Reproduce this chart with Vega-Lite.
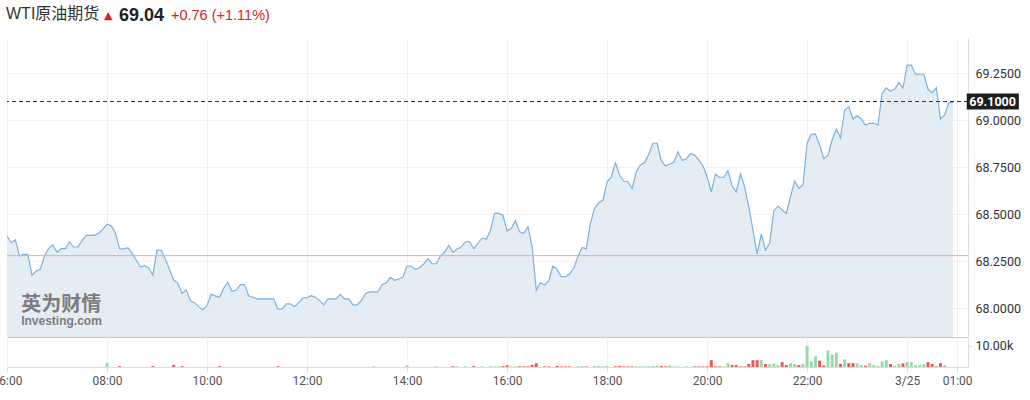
{
"$schema": "https://vega.github.io/schema/vega-lite/v6.json",
"background": "white",
"padding": {"left": -8, "top": 6, "right": 0, "bottom": 0},
"spacing": 0,
"config": {"view": {"stroke": null}, "axis": {"labelFont": "Roboto", "domainWidth": 1}},
"datasets": {
"price": [
{"t":"2025-03-24T06:00Z","p":68.386},{"t":"2025-03-24T06:05Z","p":68.349},{"t":"2025-03-24T06:10Z","p":68.365},{"t":"2025-03-24T06:15Z","p":68.278},{"t":"2025-03-24T06:20Z","p":68.287},{"t":"2025-03-24T06:25Z","p":68.287},{"t":"2025-03-24T06:30Z","p":68.176},{"t":"2025-03-24T06:35Z","p":68.198},{"t":"2025-03-24T06:40Z","p":68.209},{"t":"2025-03-24T06:45Z","p":68.278},{"t":"2025-03-24T06:50Z","p":68.319},{"t":"2025-03-24T06:55Z","p":68.337},
{"t":"2025-03-24T07:00Z","p":68.298},{"t":"2025-03-24T07:05Z","p":68.317},{"t":"2025-03-24T07:10Z","p":68.317},{"t":"2025-03-24T07:15Z","p":68.354},{"t":"2025-03-24T07:20Z","p":68.326},{"t":"2025-03-24T07:25Z","p":68.326},{"t":"2025-03-24T07:30Z","p":68.360},{"t":"2025-03-24T07:35Z","p":68.388},{"t":"2025-03-24T07:40Z","p":68.388},{"t":"2025-03-24T07:45Z","p":68.388},{"t":"2025-03-24T07:50Z","p":68.399},{"t":"2025-03-24T07:55Z","p":68.420},
{"t":"2025-03-24T08:00Z","p":68.447},{"t":"2025-03-24T08:05Z","p":68.439},{"t":"2025-03-24T08:10Z","p":68.402},{"t":"2025-03-24T08:15Z","p":68.317},{"t":"2025-03-24T08:20Z","p":68.315},{"t":"2025-03-24T08:25Z","p":68.322},{"t":"2025-03-24T08:30Z","p":68.293},{"t":"2025-03-24T08:35Z","p":68.257},{"t":"2025-03-24T08:40Z","p":68.220},{"t":"2025-03-24T08:45Z","p":68.225},{"t":"2025-03-24T08:50Z","p":68.216},{"t":"2025-03-24T08:55Z","p":68.176},
{"t":"2025-03-24T09:00Z","p":68.309},{"t":"2025-03-24T09:05Z","p":68.309},{"t":"2025-03-24T09:10Z","p":68.262},{"t":"2025-03-24T09:15Z","p":68.207},{"t":"2025-03-24T09:20Z","p":68.150},{"t":"2025-03-24T09:25Z","p":68.133},{"t":"2025-03-24T09:30Z","p":68.080},{"t":"2025-03-24T09:35Z","p":68.098},{"t":"2025-03-24T09:40Z","p":68.040},{"t":"2025-03-24T09:45Z","p":68.030},{"t":"2025-03-24T09:50Z","p":68.009},{"t":"2025-03-24T09:55Z","p":67.991},
{"t":"2025-03-24T10:00Z","p":68.016},{"t":"2025-03-24T10:05Z","p":68.074},{"t":"2025-03-24T10:10Z","p":68.066},{"t":"2025-03-24T10:15Z","p":68.059},{"t":"2025-03-24T10:20Z","p":68.108},{"t":"2025-03-24T10:25Z","p":68.138},{"t":"2025-03-24T10:30Z","p":68.090},{"t":"2025-03-24T10:35Z","p":68.097},{"t":"2025-03-24T10:40Z","p":68.126},{"t":"2025-03-24T10:45Z","p":68.126},{"t":"2025-03-24T10:50Z","p":68.067},{"t":"2025-03-24T10:55Z","p":68.059},
{"t":"2025-03-24T11:00Z","p":68.050},{"t":"2025-03-24T11:05Z","p":68.050},{"t":"2025-03-24T11:10Z","p":68.050},{"t":"2025-03-24T11:15Z","p":68.050},{"t":"2025-03-24T11:20Z","p":68.050},{"t":"2025-03-24T11:25Z","p":67.996},{"t":"2025-03-24T11:30Z","p":67.996},{"t":"2025-03-24T11:35Z","p":68.024},{"t":"2025-03-24T11:40Z","p":68.024},{"t":"2025-03-24T11:45Z","p":68.009},{"t":"2025-03-24T11:50Z","p":68.030},{"t":"2025-03-24T11:55Z","p":68.056},
{"t":"2025-03-24T12:00Z","p":68.056},{"t":"2025-03-24T12:05Z","p":68.067},{"t":"2025-03-24T12:10Z","p":68.059},{"t":"2025-03-24T12:15Z","p":68.042},{"t":"2025-03-24T12:20Z","p":68.018},{"t":"2025-03-24T12:25Z","p":68.050},{"t":"2025-03-24T12:30Z","p":68.050},{"t":"2025-03-24T12:35Z","p":68.050},{"t":"2025-03-24T12:40Z","p":68.074},{"t":"2025-03-24T12:45Z","p":68.050},{"t":"2025-03-24T12:50Z","p":68.050},{"t":"2025-03-24T12:55Z","p":68.018},
{"t":"2025-03-24T13:00Z","p":68.018},{"t":"2025-03-24T13:05Z","p":68.040},{"t":"2025-03-24T13:10Z","p":68.078},{"t":"2025-03-24T13:15Z","p":68.087},{"t":"2025-03-24T13:20Z","p":68.087},{"t":"2025-03-24T13:25Z","p":68.087},{"t":"2025-03-24T13:30Z","p":68.126},{"t":"2025-03-24T13:35Z","p":68.136},{"t":"2025-03-24T13:40Z","p":68.165},{"t":"2025-03-24T13:45Z","p":68.149},{"t":"2025-03-24T13:50Z","p":68.156},{"t":"2025-03-24T13:55Z","p":68.165},
{"t":"2025-03-24T14:00Z","p":68.225},{"t":"2025-03-24T14:05Z","p":68.225},{"t":"2025-03-24T14:10Z","p":68.207},{"t":"2025-03-24T14:15Z","p":68.216},{"t":"2025-03-24T14:20Z","p":68.236},{"t":"2025-03-24T14:25Z","p":68.264},{"t":"2025-03-24T14:30Z","p":68.237},{"t":"2025-03-24T14:35Z","p":68.237},{"t":"2025-03-24T14:40Z","p":68.278},{"t":"2025-03-24T14:45Z","p":68.298},{"t":"2025-03-24T14:50Z","p":68.335},{"t":"2025-03-24T14:55Z","p":68.298},
{"t":"2025-03-24T15:00Z","p":68.315},{"t":"2025-03-24T15:05Z","p":68.326},{"t":"2025-03-24T15:10Z","p":68.354},{"t":"2025-03-24T15:15Z","p":68.354},{"t":"2025-03-24T15:20Z","p":68.317},{"t":"2025-03-24T15:25Z","p":68.346},{"t":"2025-03-24T15:30Z","p":68.374},{"t":"2025-03-24T15:35Z","p":68.367},{"t":"2025-03-24T15:40Z","p":68.415},{"t":"2025-03-24T15:45Z","p":68.505},{"t":"2025-03-24T15:50Z","p":68.505},{"t":"2025-03-24T15:55Z","p":68.495},
{"t":"2025-03-24T16:00Z","p":68.411},{"t":"2025-03-24T16:05Z","p":68.426},{"t":"2025-03-24T16:10Z","p":68.466},{"t":"2025-03-24T16:15Z","p":68.407},{"t":"2025-03-24T16:20Z","p":68.399},{"t":"2025-03-24T16:25Z","p":68.434},{"t":"2025-03-24T16:30Z","p":68.328},{"t":"2025-03-24T16:35Z","p":68.097},{"t":"2025-03-24T16:40Z","p":68.136},{"t":"2025-03-24T16:45Z","p":68.124},{"t":"2025-03-24T16:50Z","p":68.147},{"t":"2025-03-24T16:55Z","p":68.225},
{"t":"2025-03-24T17:00Z","p":68.207},{"t":"2025-03-24T17:05Z","p":68.168},{"t":"2025-03-24T17:10Z","p":68.168},{"t":"2025-03-24T17:15Z","p":68.182},{"t":"2025-03-24T17:20Z","p":68.213},{"t":"2025-03-24T17:25Z","p":68.274},{"t":"2025-03-24T17:30Z","p":68.324},{"t":"2025-03-24T17:35Z","p":68.317},{"t":"2025-03-24T17:40Z","p":68.452},{"t":"2025-03-24T17:45Z","p":68.532},{"t":"2025-03-24T17:50Z","p":68.562},{"t":"2025-03-24T17:55Z","p":68.576},
{"t":"2025-03-24T18:00Z","p":68.673},{"t":"2025-03-24T18:05Z","p":68.697},{"t":"2025-03-24T18:10Z","p":68.774},{"t":"2025-03-24T18:15Z","p":68.709},{"t":"2025-03-24T18:20Z","p":68.677},{"t":"2025-03-24T18:25Z","p":68.673},{"t":"2025-03-24T18:30Z","p":68.636},{"t":"2025-03-24T18:35Z","p":68.727},{"t":"2025-03-24T18:40Z","p":68.762},{"t":"2025-03-24T18:45Z","p":68.775},{"t":"2025-03-24T18:50Z","p":68.820},{"t":"2025-03-24T18:55Z","p":68.878},
{"t":"2025-03-24T19:00Z","p":68.878},{"t":"2025-03-24T19:05Z","p":68.785},{"t":"2025-03-24T19:10Z","p":68.757},{"t":"2025-03-24T19:15Z","p":68.766},{"t":"2025-03-24T19:20Z","p":68.777},{"t":"2025-03-24T19:25Z","p":68.833},{"t":"2025-03-24T19:30Z","p":68.787},{"t":"2025-03-24T19:35Z","p":68.794},{"t":"2025-03-24T19:40Z","p":68.824},{"t":"2025-03-24T19:45Z","p":68.815},{"t":"2025-03-24T19:50Z","p":68.789},{"t":"2025-03-24T19:55Z","p":68.757},
{"t":"2025-03-24T20:00Z","p":68.700},{"t":"2025-03-24T20:05Z","p":68.620},{"t":"2025-03-24T20:10Z","p":68.713},{"t":"2025-03-24T20:15Z","p":68.697},{"t":"2025-03-24T20:20Z","p":68.697},{"t":"2025-03-24T20:25Z","p":68.732},{"t":"2025-03-24T20:30Z","p":68.651},{"t":"2025-03-24T20:35Z","p":68.620},{"t":"2025-03-24T20:40Z","p":68.714},{"t":"2025-03-24T20:45Z","p":68.647},{"t":"2025-03-24T20:50Z","p":68.540},{"t":"2025-03-24T20:55Z","p":68.416},
{"t":"2025-03-24T21:00Z","p":68.289},{"t":"2025-03-24T21:05Z","p":68.394},{"t":"2025-03-24T21:10Z","p":68.310},{"t":"2025-03-24T21:15Z","p":68.346},{"t":"2025-03-24T21:20Z","p":68.518},{"t":"2025-03-24T21:25Z","p":68.544},{"t":"2025-03-24T21:30Z","p":68.523},{"t":"2025-03-24T21:35Z","p":68.505},{"t":"2025-03-24T21:40Z","p":68.594},{"t":"2025-03-24T21:45Z","p":68.677},{"t":"2025-03-24T21:50Z","p":68.638},{"t":"2025-03-24T21:55Z","p":68.656},
{"t":"2025-03-24T22:00Z","p":68.878},{"t":"2025-03-24T22:05Z","p":68.926},{"t":"2025-03-24T22:10Z","p":68.926},{"t":"2025-03-24T22:15Z","p":68.869},{"t":"2025-03-24T22:20Z","p":68.796},{"t":"2025-03-24T22:25Z","p":68.815},{"t":"2025-03-24T22:30Z","p":68.895},{"t":"2025-03-24T22:35Z","p":68.954},{"t":"2025-03-24T22:40Z","p":68.907},{"t":"2025-03-24T22:45Z","p":69.055},{"t":"2025-03-24T22:50Z","p":69.072},{"t":"2025-03-24T22:55Z","p":69.007},
{"t":"2025-03-24T23:00Z","p":69.024},{"t":"2025-03-24T23:05Z","p":69.007},{"t":"2025-03-24T23:10Z","p":68.975},{"t":"2025-03-24T23:15Z","p":68.984},{"t":"2025-03-24T23:20Z","p":68.984},{"t":"2025-03-24T23:25Z","p":68.975},{"t":"2025-03-24T23:30Z","p":69.144},{"t":"2025-03-24T23:35Z","p":69.173},{"t":"2025-03-24T23:40Z","p":69.156},{"t":"2025-03-24T23:45Z","p":69.165},{"t":"2025-03-24T23:50Z","p":69.202},{"t":"2025-03-24T23:55Z","p":69.173},
{"t":"2025-03-25T00:00Z","p":69.294},{"t":"2025-03-25T00:05Z","p":69.294},{"t":"2025-03-25T00:10Z","p":69.245},{"t":"2025-03-25T00:15Z","p":69.245},{"t":"2025-03-25T00:20Z","p":69.245},{"t":"2025-03-25T00:25Z","p":69.165},{"t":"2025-03-25T00:30Z","p":69.147},{"t":"2025-03-25T00:35Z","p":69.173},{"t":"2025-03-25T00:40Z","p":69.007},{"t":"2025-03-25T00:45Z","p":69.028},{"t":"2025-03-25T00:50Z","p":69.094},{"t":"2025-03-25T00:55Z","p":69.094}
],
"vol": [
{"t":"2025-03-24T08:00Z","v":2000,"d":"u"},{"t":"2025-03-24T08:15Z","v":400,"d":"d"},{"t":"2025-03-24T08:55Z","v":400,"d":"d"},{"t":"2025-03-24T09:20Z","v":1000,"d":"d"},{"t":"2025-03-24T09:30Z","v":400,"d":"d"},{"t":"2025-03-24T10:15Z","v":400,"d":"d"},{"t":"2025-03-24T11:25Z","v":400,"d":"d"},{"t":"2025-03-24T13:20Z","v":300,"d":"u"},{"t":"2025-03-24T14:00Z","v":800,"d":"u"},{"t":"2025-03-24T14:35Z","v":300,"d":"u"},{"t":"2025-03-24T14:55Z","v":400,"d":"d"},
{"t":"2025-03-24T15:00Z","v":300,"d":"u"},{"t":"2025-03-24T15:10Z","v":300,"d":"u"},{"t":"2025-03-24T15:20Z","v":400,"d":"d"},{"t":"2025-03-24T15:30Z","v":300,"d":"u"},{"t":"2025-03-24T15:40Z","v":300,"d":"u"},{"t":"2025-03-24T15:45Z","v":300,"d":"u"},{"t":"2025-03-24T15:50Z","v":300,"d":"u"},{"t":"2025-03-24T15:55Z","v":400,"d":"d"},
{"t":"2025-03-24T16:00Z","v":800,"d":"d"},{"t":"2025-03-24T16:05Z","v":300,"d":"u"},{"t":"2025-03-24T16:10Z","v":300,"d":"u"},{"t":"2025-03-24T16:15Z","v":300,"d":"d"},{"t":"2025-03-24T16:20Z","v":300,"d":"d"},{"t":"2025-03-24T16:25Z","v":300,"d":"d"},{"t":"2025-03-24T16:30Z","v":1000,"d":"d"},{"t":"2025-03-24T16:35Z","v":1800,"d":"d"},{"t":"2025-03-24T16:45Z","v":300,"d":"d"},{"t":"2025-03-24T16:50Z","v":300,"d":"d"},
{"t":"2025-03-24T17:00Z","v":500,"d":"d"},{"t":"2025-03-24T17:05Z","v":300,"d":"d"},{"t":"2025-03-24T17:10Z","v":300,"d":"d"},{"t":"2025-03-24T17:15Z","v":300,"d":"d"},{"t":"2025-03-24T17:25Z","v":300,"d":"u"},{"t":"2025-03-24T17:30Z","v":400,"d":"u"},{"t":"2025-03-24T17:35Z","v":300,"d":"d"},{"t":"2025-03-24T17:45Z","v":500,"d":"u"},{"t":"2025-03-24T17:50Z","v":500,"d":"u"},{"t":"2025-03-24T17:55Z","v":300,"d":"u"},
{"t":"2025-03-24T18:00Z","v":500,"d":"u"},{"t":"2025-03-24T18:10Z","v":300,"d":"d"},{"t":"2025-03-24T18:15Z","v":500,"d":"d"},{"t":"2025-03-24T18:20Z","v":300,"d":"d"},{"t":"2025-03-24T18:25Z","v":300,"d":"d"},{"t":"2025-03-24T18:30Z","v":300,"d":"d"},{"t":"2025-03-24T18:35Z","v":300,"d":"u"},{"t":"2025-03-24T18:40Z","v":300,"d":"u"},{"t":"2025-03-24T18:45Z","v":300,"d":"u"},{"t":"2025-03-24T18:50Z","v":300,"d":"u"},{"t":"2025-03-24T18:55Z","v":500,"d":"u"},
{"t":"2025-03-24T19:00Z","v":700,"d":"u"},{"t":"2025-03-24T19:05Z","v":500,"d":"d"},{"t":"2025-03-24T19:10Z","v":300,"d":"d"},{"t":"2025-03-24T19:15Z","v":700,"d":"u"},{"t":"2025-03-24T19:20Z","v":300,"d":"u"},{"t":"2025-03-24T19:25Z","v":300,"d":"u"},{"t":"2025-03-24T19:35Z","v":300,"d":"u"},{"t":"2025-03-24T19:45Z","v":300,"d":"d"},{"t":"2025-03-24T19:50Z","v":300,"d":"d"},{"t":"2025-03-24T19:55Z","v":300,"d":"d"},
{"t":"2025-03-24T20:00Z","v":300,"d":"d"},{"t":"2025-03-24T20:05Z","v":3200,"d":"d"},{"t":"2025-03-24T20:10Z","v":300,"d":"d"},{"t":"2025-03-24T20:15Z","v":300,"d":"d"},{"t":"2025-03-24T20:20Z","v":300,"d":"u"},{"t":"2025-03-24T20:25Z","v":1800,"d":"u"},{"t":"2025-03-24T20:30Z","v":900,"d":"d"},{"t":"2025-03-24T20:35Z","v":900,"d":"d"},{"t":"2025-03-24T20:40Z","v":300,"d":"d"},{"t":"2025-03-24T20:45Z","v":300,"d":"d"},{"t":"2025-03-24T20:50Z","v":1400,"d":"d"},{"t":"2025-03-24T20:55Z","v":3200,"d":"d"},
{"t":"2025-03-24T21:00Z","v":3200,"d":"d"},{"t":"2025-03-24T21:05Z","v":3200,"d":"u"},{"t":"2025-03-24T21:10Z","v":1400,"d":"d"},{"t":"2025-03-24T21:15Z","v":1400,"d":"u"},{"t":"2025-03-24T21:20Z","v":1700,"d":"u"},{"t":"2025-03-24T21:25Z","v":900,"d":"u"},{"t":"2025-03-24T21:30Z","v":2300,"d":"d"},{"t":"2025-03-24T21:35Z","v":900,"d":"d"},{"t":"2025-03-24T21:40Z","v":1800,"d":"u"},{"t":"2025-03-24T21:45Z","v":1400,"d":"u"},{"t":"2025-03-24T21:50Z","v":900,"d":"d"},{"t":"2025-03-24T21:55Z","v":1400,"d":"u"},
{"t":"2025-03-24T22:00Z","v":10000,"d":"u"},{"t":"2025-03-24T22:05Z","v":2600,"d":"u"},{"t":"2025-03-24T22:10Z","v":5000,"d":"u"},{"t":"2025-03-24T22:15Z","v":3000,"d":"d"},{"t":"2025-03-24T22:20Z","v":700,"d":"d"},{"t":"2025-03-24T22:25Z","v":7700,"d":"u"},{"t":"2025-03-24T22:30Z","v":5900,"d":"u"},{"t":"2025-03-24T22:35Z","v":6800,"d":"u"},{"t":"2025-03-24T22:40Z","v":1400,"d":"d"},{"t":"2025-03-24T22:45Z","v":3600,"d":"u"},{"t":"2025-03-24T22:50Z","v":1800,"d":"d"},{"t":"2025-03-24T22:55Z","v":1800,"d":"d"},
{"t":"2025-03-24T23:00Z","v":1700,"d":"u"},{"t":"2025-03-24T23:05Z","v":900,"d":"u"},{"t":"2025-03-24T23:10Z","v":600,"d":"d"},{"t":"2025-03-24T23:15Z","v":1800,"d":"u"},{"t":"2025-03-24T23:20Z","v":900,"d":"u"},{"t":"2025-03-24T23:25Z","v":400,"d":"u"},{"t":"2025-03-24T23:30Z","v":2600,"d":"u"},{"t":"2025-03-24T23:35Z","v":3200,"d":"u"},{"t":"2025-03-24T23:40Z","v":1400,"d":"d"},{"t":"2025-03-24T23:45Z","v":700,"d":"u"},{"t":"2025-03-24T23:50Z","v":1400,"d":"u"},{"t":"2025-03-24T23:55Z","v":1700,"d":"d"},
{"t":"2025-03-25T00:00Z","v":2300,"d":"u"},{"t":"2025-03-25T00:05Z","v":2300,"d":"u"},{"t":"2025-03-25T00:10Z","v":900,"d":"u"},{"t":"2025-03-25T00:15Z","v":900,"d":"u"},{"t":"2025-03-25T00:20Z","v":1400,"d":"u"},{"t":"2025-03-25T00:25Z","v":2300,"d":"d"},{"t":"2025-03-25T00:30Z","v":1400,"d":"d"},{"t":"2025-03-25T00:35Z","v":600,"d":"u"},{"t":"2025-03-25T00:40Z","v":1800,"d":"d"},{"t":"2025-03-25T00:45Z","v":900,"d":"u"}
]
},
"vconcat": [
{
"title": {"text": "WTI原油期货", "orient": "none", "anchor": "start", "dx": -1, "dy": -32, "color": "#333333", "fontSize": 16, "fontWeight": "normal", "font": "Liberation Sans, Noto Sans CJK SC"},
"spacing": 0,
"vconcat": [
{
"title": {"text": "▲", "orient": "none", "anchor": "start", "dx": 97, "dy": -28, "color": "#d9231d", "fontSize": 11, "font": "DejaVu Sans"},
"spacing": 0,
"vconcat": [
{
"title": {"text": "69.04", "orient": "none", "anchor": "start", "dx": 112, "dy": -31, "color": "#222222", "fontSize": 18, "fontWeight": "bold", "font": "Liberation Sans"},
"spacing": 0,
"vconcat": [
{
"title": {"text": "+0.76 (+1.11%)", "orient": "none", "anchor": "start", "dx": 164, "dy": -29, "color": "#d9231d", "fontSize": 14.5, "fontWeight": "normal", "font": "Liberation Sans"},
"spacing": 0,
"vconcat": [
{
"width": 961, "height": 299,
"layer": [
{"data": {"name": "price"}, "mark": {"type": "area", "color": "#e4ecf4"},
 "encoding": {
  "x": {"field": "t", "type": "temporal", "scale": {"type": "utc", "nice": false, "padding": 0, "domain": [{"year":2025,"month":3,"date":24,"hours":6,"utc":true},{"year":2025,"month":3,"date":25,"hours":1,"minutes":13,"utc":true}]},
        "axis": {"orient": "bottom", "labels": false, "ticks": false, "domain": true, "domainColor": "#c8c8c8", "grid": true, "gridColor": "#f1f1f1", "title": null,
                 "values": [{"year":2025,"month":3,"date":24,"hours":6,"utc":true},{"year":2025,"month":3,"date":24,"hours":8,"utc":true},{"year":2025,"month":3,"date":24,"hours":10,"utc":true},{"year":2025,"month":3,"date":24,"hours":12,"utc":true},{"year":2025,"month":3,"date":24,"hours":14,"utc":true},{"year":2025,"month":3,"date":24,"hours":16,"utc":true},{"year":2025,"month":3,"date":24,"hours":18,"utc":true},{"year":2025,"month":3,"date":24,"hours":20,"utc":true},{"year":2025,"month":3,"date":24,"hours":22,"utc":true},{"year":2025,"month":3,"date":25,"hours":0,"utc":true},{"year":2025,"month":3,"date":25,"hours":1,"utc":true}]}},
  "y": {"field": "p", "type": "quantitative", "scale": {"domain": [67.8473, 69.4378], "zero": false, "nice": false, "padding": 0},
        "axis": {"orient": "right", "values": [68, 68.25, 68.5, 68.75, 69, 69.25], "format": ".4f", "title": null, "ticks": false, "labelPadding": 7, "grid": true, "gridColor": "#f1f1f1", "domain": true, "domainColor": "#dddddd", "labelColor": "#333333", "labelFontSize": 12.5}},
  "y2": {"datum": 67.8473}
 }},
{"data": {"name": "price"}, "mark": {"type": "line", "color": "#7eb2dd", "strokeWidth": 1.2},
 "encoding": {"x": {"field": "t", "type": "temporal"}, "y": {"field": "p", "type": "quantitative"}}},
{"data": {"values": [{}]}, "mark": {"type": "rule", "color": "#f4a4a4", "strokeWidth": 1},
 "encoding": {"y": {"datum": 68.28}}},
{"data": {"values": [{}]}, "mark": {"type": "rule", "color": "#333333", "strokeWidth": 1, "strokeDash": [4, 3]},
 "encoding": {"y": {"datum": 69.1}}},
{"data": {"values": [{}]}, "mark": {"type": "text", "text": "英为财情", "font": "Noto Sans CJK SC", "fontWeight": "bold", "fontSize": 20, "color": "#7d7d7d", "align": "left", "baseline": "middle"},
 "encoding": {"x": {"datum": {"year":2025,"month":3,"date":24,"hours":6,"minutes":17,"utc":true}, "type": "temporal"}, "y": {"datum": 68.02}}},
{"data": {"values": [{}]}, "mark": {"type": "text", "text": "Investing.com", "font": "Liberation Sans", "fontWeight": "bold", "fontSize": 12, "color": "#7d7d7d", "align": "left", "baseline": "middle"},
 "encoding": {"x": {"datum": {"year":2025,"month":3,"date":24,"hours":6,"minutes":17,"utc":true}, "type": "temporal"}, "y": {"datum": 67.932}}},
{"data": {"values": [{}]}, "mark": {"type": "rect", "color": "#1e1e1e"},
 "encoding": {"x": {"datum": {"year":2025,"month":3,"date":25,"hours":1,"minutes":11,"seconds":30,"utc":true}, "type": "temporal"},
              "x2": {"datum": {"year":2025,"month":3,"date":25,"hours":2,"minutes":14,"utc":true}},
              "y": {"datum": 69.142}, "y2": {"datum": 69.057}}},
{"data": {"values": [{}]}, "mark": {"type": "text", "text": "69.1000", "font": "Roboto", "fontWeight": "bold", "fontSize": 12.5, "color": "#ffffff", "align": "center", "baseline": "middle"},
 "encoding": {"x": {"datum": {"year":2025,"month":3,"date":25,"hours":1,"minutes":42,"seconds":30,"utc":true}, "type": "temporal"}, "y": {"datum": 69.1}}}
]
},
{
"width": 961, "height": 30,
"data": {"name": "vol"},
"mark": {"type": "bar", "width": 3},
"encoding": {
 "x": {"field": "t", "type": "temporal", "scale": {"type": "utc", "nice": false, "padding": 0, "domain": [{"year":2025,"month":3,"date":24,"hours":6,"utc":true},{"year":2025,"month":3,"date":25,"hours":1,"minutes":13,"utc":true}]},
       "axis": {"title": null, "grid": true, "gridColor": "#f1f1f1", "domainColor": "#dddddd", "tickColor": "#dddddd", "tickSize": 5, "labelPadding": 3, "labelColor": "#555555", "labelFontSize": 12, "labelFlush": false, "labelOverlap": false,
                "labelExpr": "utchours(datum.value) == 0 ? (utcmonth(datum.value) + 1) + '/' + utcdate(datum.value) : utcFormat(datum.value, '%H:%M')",
                "values": [{"year":2025,"month":3,"date":24,"hours":6,"utc":true},{"year":2025,"month":3,"date":24,"hours":8,"utc":true},{"year":2025,"month":3,"date":24,"hours":10,"utc":true},{"year":2025,"month":3,"date":24,"hours":12,"utc":true},{"year":2025,"month":3,"date":24,"hours":14,"utc":true},{"year":2025,"month":3,"date":24,"hours":16,"utc":true},{"year":2025,"month":3,"date":24,"hours":18,"utc":true},{"year":2025,"month":3,"date":24,"hours":20,"utc":true},{"year":2025,"month":3,"date":24,"hours":22,"utc":true},{"year":2025,"month":3,"date":25,"hours":0,"utc":true},{"year":2025,"month":3,"date":25,"hours":1,"utc":true}]}},
 "y": {"field": "v", "type": "quantitative", "scale": {"domain": [0, 14100], "nice": false, "padding": 0},
       "axis": {"orient": "right", "values": [10000], "labelExpr": "format(datum.value / 1000, '.2f') + 'k'", "title": null, "grid": false, "ticks": true, "tickSize": 4, "tickColor": "#dddddd", "domainColor": "#dddddd", "labelColor": "#333333", "labelFontSize": 12.5, "labelPadding": 3}},
 "color": {"field": "d", "type": "nominal", "scale": {"domain": ["u", "d"], "range": ["#9fd6ae", "#e35d5d"]}, "legend": null}
}
}
]
}
]
}
]
}
]
}
]
}
